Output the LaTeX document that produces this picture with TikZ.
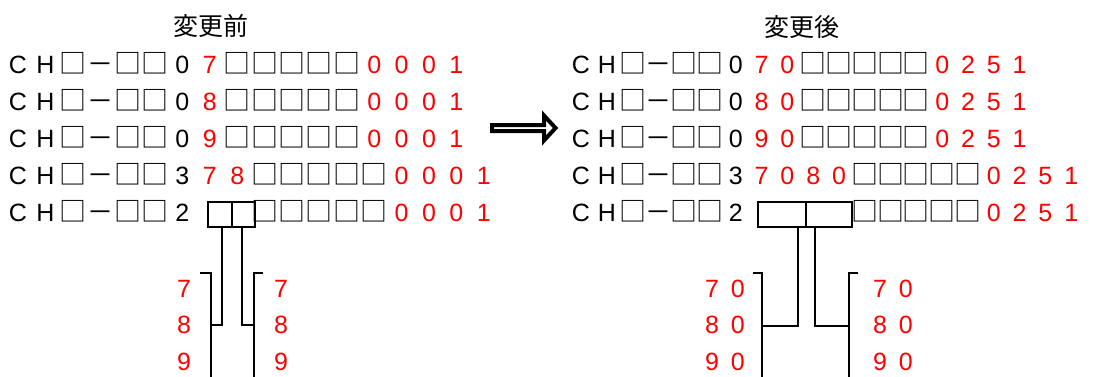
\documentclass[tikz,border=0pt]{standalone}
\usepackage{fontspec}
\setmainfont{Liberation Sans}
\newfontfamily\cjk{Noto Sans CJK JP}
\usetikzlibrary{calc}
\newcommand{\wsq}{{\cjk\fontsize{27}{27}\selectfont □}}
\newcommand{\wdh}{{\cjk\fontsize{26}{26}\selectfont －}}
\newcommand{\chrow}[5]{%
  \foreach \c/\cl [count=\i from 0] in {#5} {\node[ch,\cl] (#1-\i) at ({#2+#3*\i},#4) {\c};}}
\tikzset{
  ch/.style={anchor=base, inner sep=0pt, font=\fontsize{25}{25}\selectfont},
  ttl/.style={inner sep=0pt, font=\cjk\fontsize{25}{25}\selectfont},
  bx/.style={draw, line width=1.5pt, minimum height=25pt, inner sep=0pt},
  ln/.style={line width=1.5pt},
}
\begin{document}
\begin{tikzpicture}[x=1pt,y=-1pt]
\useasboundingbox (0,0) rectangle (1114,376);
\clip (0,0) rectangle (1114,376);
% titles
\node[ttl] (tL) at (211,26) {変更前};
\node[ttl] (tR) at (802,27) {変更後};
% left block
\def\px{27.4}
\chrow{L1}{18}{\px}{73}{C/black,H/black,\wsq/black,\wdh/black,\wsq/black,\wsq/black,0/black,7/red,\wsq/black,\wsq/black,\wsq/black,\wsq/black,\wsq/black,0/red,0/red,0/red,1/red}
\chrow{L2}{18}{\px}{110.2}{C/black,H/black,\wsq/black,\wdh/black,\wsq/black,\wsq/black,0/black,8/red,\wsq/black,\wsq/black,\wsq/black,\wsq/black,\wsq/black,0/red,0/red,0/red,1/red}
\chrow{L3}{18}{\px}{147.4}{C/black,H/black,\wsq/black,\wdh/black,\wsq/black,\wsq/black,0/black,9/red,\wsq/black,\wsq/black,\wsq/black,\wsq/black,\wsq/black,0/red,0/red,0/red,1/red}
\chrow{L4}{18}{\px}{184.6}{C/black,H/black,\wsq/black,\wdh/black,\wsq/black,\wsq/black,3/black,7/red,8/red,\wsq/black,\wsq/black,\wsq/black,\wsq/black,\wsq/black,0/red,0/red,0/red,1/red}
\chrow{L5a}{18}{\px}{221.8}{C/black,H/black,\wsq/black,\wdh/black,\wsq/black,\wsq/black,2/black}
\chrow{L5b}{18+9*\px}{\px}{221.8}{\wsq/black,\wsq/black,\wsq/black,\wsq/black,\wsq/black,0/red,0/red,0/red,1/red}
\node[bx, minimum width=24pt] (LbA) at (220,214.5) {};
\node[bx, minimum width=23pt] (LbB) at (243.5,214.5) {};
% left labels
\chrow{LL1}{184}{0}{297}{7/red}
\chrow{LL2}{184}{0}{333}{8/red}
\chrow{LL3}{184}{0}{370}{9/red}
\chrow{LR1}{281}{0}{297}{7/red}
\chrow{LR2}{281}{0}{333}{8/red}
\chrow{LR3}{281}{0}{370}{9/red}
% left brackets
\coordinate (LkA) at (211,325);
\coordinate (LkB) at (254,325);
\draw[ln] (200,273) -- (211,273) -- (211,380);
\draw[ln] (263,273) -- (254,273) -- (254,380);
\draw[ln] ($(LbA.south)+(2,0)$) |- (LkA);
\draw[ln] ($(LbB.south)+(-1.5,0)$) |- (LkB);
% arrow
\draw[line width=4pt, fill=white, miter limit=10]
  (492,125) -- (544,125) -- (544,115.5) -- (555.5,128) -- (544,140.5) -- (544,131) -- (492,131) -- cycle;
% right block
\def\qx{25.8}
\chrow{R1}{581}{\qx}{73}{C/black,H/black,\wsq/black,\wdh/black,\wsq/black,\wsq/black,0/black,7/red,0/red,\wsq/black,\wsq/black,\wsq/black,\wsq/black,\wsq/black,0/red,2/red,5/red,1/red}
\chrow{R2}{581}{\qx}{110.2}{C/black,H/black,\wsq/black,\wdh/black,\wsq/black,\wsq/black,0/black,8/red,0/red,\wsq/black,\wsq/black,\wsq/black,\wsq/black,\wsq/black,0/red,2/red,5/red,1/red}
\chrow{R3}{581}{\qx}{147.4}{C/black,H/black,\wsq/black,\wdh/black,\wsq/black,\wsq/black,0/black,9/red,0/red,\wsq/black,\wsq/black,\wsq/black,\wsq/black,\wsq/black,0/red,2/red,5/red,1/red}
\chrow{R4}{581}{\qx}{184.6}{C/black,H/black,\wsq/black,\wdh/black,\wsq/black,\wsq/black,3/black,7/red,0/red,8/red,0/red,\wsq/black,\wsq/black,\wsq/black,\wsq/black,\wsq/black,0/red,2/red,5/red,1/red}
\chrow{R5a}{581}{\qx}{221.8}{C/black,H/black,\wsq/black,\wdh/black,\wsq/black,\wsq/black,2/black}
\chrow{R5b}{581+11*\qx}{\qx}{221.8}{\wsq/black,\wsq/black,\wsq/black,\wsq/black,\wsq/black,0/red,2/red,5/red,1/red}
\node[bx, minimum width=48pt] (RbA) at (782,214.5) {};
\node[bx, minimum width=46pt] (RbB) at (829,214.5) {};
% right labels
\chrow{RL1}{712}{\qx}{297}{7/red,0/red}
\chrow{RL2}{712}{\qx}{333}{8/red,0/red}
\chrow{RL3}{712}{\qx}{370}{9/red,0/red}
\chrow{RR1}{880}{\qx}{297}{7/red,0/red}
\chrow{RR2}{880}{\qx}{333}{8/red,0/red}
\chrow{RR3}{880}{\qx}{370}{9/red,0/red}
% right brackets
\coordinate (RkA) at (762,326);
\coordinate (RkB) at (849,326);
\draw[ln] (753,273) -- (762,273) -- (762,380);
\draw[ln] (858,273) -- (849,273) -- (849,380);
\draw[ln] ($(RbA.south)+(16,0)$) |- (RkA);
\draw[ln] ($(RbB.south)+(-14,0)$) |- (RkB);
\end{tikzpicture}
\end{document}
